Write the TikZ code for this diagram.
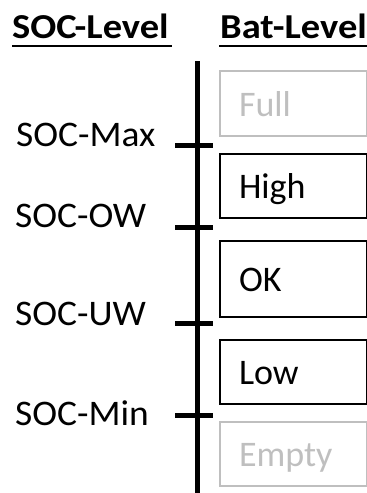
\documentclass[tikz,border=0pt]{standalone}
\usepackage{fontspec}
\setmainfont{Carlito}
\usepackage{graphicx}
\newcommand\hstretch[2]{\scalebox{#1}[1]{#2}}
\definecolor{faded}{HTML}{BFBFBF}
\begin{document}
\begin{tikzpicture}[x=1pt,y=-1pt,
  header/.style={anchor=base west, inner sep=0pt,
    font=\fontsize{35}{35}\selectfont\bfseries},
  soclabel/.style={anchor=base west, inner sep=0pt,
    font=\fontsize{36}{36}\selectfont},
  level/.style={draw, line width=2pt, anchor=north west,
    minimum width=147pt, inner xsep=19pt, inner ysep=0pt,
    text width=109pt, align=left, text height=25pt, text depth=0pt,
    font=\fontsize{36}{36}\selectfont},
  inactive/.style={level, draw=faded, text=faded},
  axis/.style={line width=5pt},
  rule/.style={line width=2pt}]
\useasboundingbox (0,0) rectangle (367,493);

% column headings
\node[header] (hsoc) at (12,38) {\hstretch{1.1}{SOC-Level}};
\node[header] (hbat) at (220,38) {\hstretch{1.1}{Bat-Level}};
\draw[rule] (12,46) -- (172,46);
\draw[rule] (219,46) -- (367,46);

% vertical scale with threshold ticks
\coordinate (top) at (197,61);
\coordinate (bottom) at (197,493);
\draw[axis] (top) -- (bottom);
\foreach \n/\y in {max/145, ow/227, uw/323, min/415} {
  \coordinate (\n-l) at (175,\y);
  \coordinate (\n-r) at (213,\y);
  \draw[axis] (\n-l) -- (\n-r);
}

% threshold names
\node[soclabel] (lmax) at (16,146) {\hstretch{1.04}{SOC-Max}};
\node[soclabel] (low) at (15,227) {\hstretch{1.04}{SOC-OW}};
\node[soclabel] (luw) at (15,325) {\hstretch{1.04}{SOC-UW}};
\node[soclabel] (lmin) at (15,425) {\hstretch{1.04}{SOC-Min}};

% battery levels
\node[inactive, minimum height=65pt] (full) at (219,70) {Full};
\node[level, minimum height=64pt] (high) at (219,153) {High};
\node[level, minimum height=76pt] (ok) at (219,240) {OK};
\node[level, minimum height=64pt] (lowlvl) at (219,339) {Low};
\node[inactive, minimum height=64pt] (empty) at (219,421) {Empty};
\end{tikzpicture}
\end{document}
